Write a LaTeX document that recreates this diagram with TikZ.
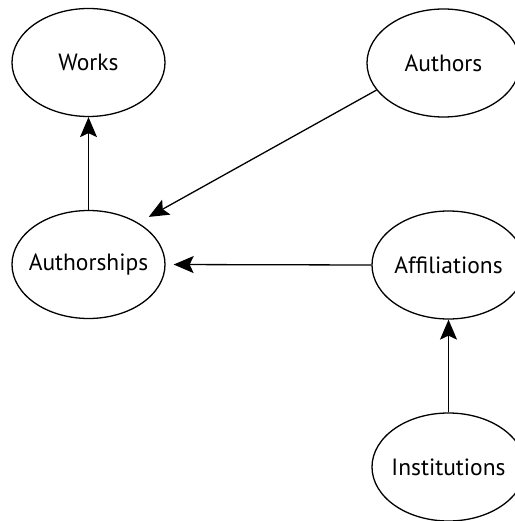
\documentclass[tikz,border=0pt]{standalone}
\usepackage{fontspec}
\setmainfont{PT Sans}
\usetikzlibrary{shapes.geometric,arrows.meta}
\newcommand{\enttext}[1]{\makebox[0pt]{#1}}
\begin{document}
\begin{tikzpicture}[x=1pt,y=-1pt,
  ent/.style={draw,line width=1.3pt,ellipse,minimum width=153pt,minimum height=108pt,inner sep=0pt,font=\fontsize{23.5}{28}\selectfont},
  arr/.style={line width=1.3pt,-{Stealth[length=20pt,width=17pt,inset=4pt]}}]
\useasboundingbox (0,0) rectangle (514,521);
\node[ent] (w) at (88.5,62.5) {\enttext{Works}};
\node[ent] (au) at (443.5,63) {\enttext{Authors}};
\node[ent] (as) at (88.5,264.5) {\enttext{Authorships}};
\node[ent] (af) at (448.5,265) {\enttext{Affiliations}};
\node[ent] (in) at (448.5,467) {\enttext{Institutions}};
\draw[arr] (as.north) -- (w.south);
\draw[arr,shorten >=12pt] (au.202) -- (as.40);
\draw[arr,shorten >=8pt] (af.west) -- (as.east);
\draw[arr] (in.north) -- (af.south);
\end{tikzpicture}
\end{document}
